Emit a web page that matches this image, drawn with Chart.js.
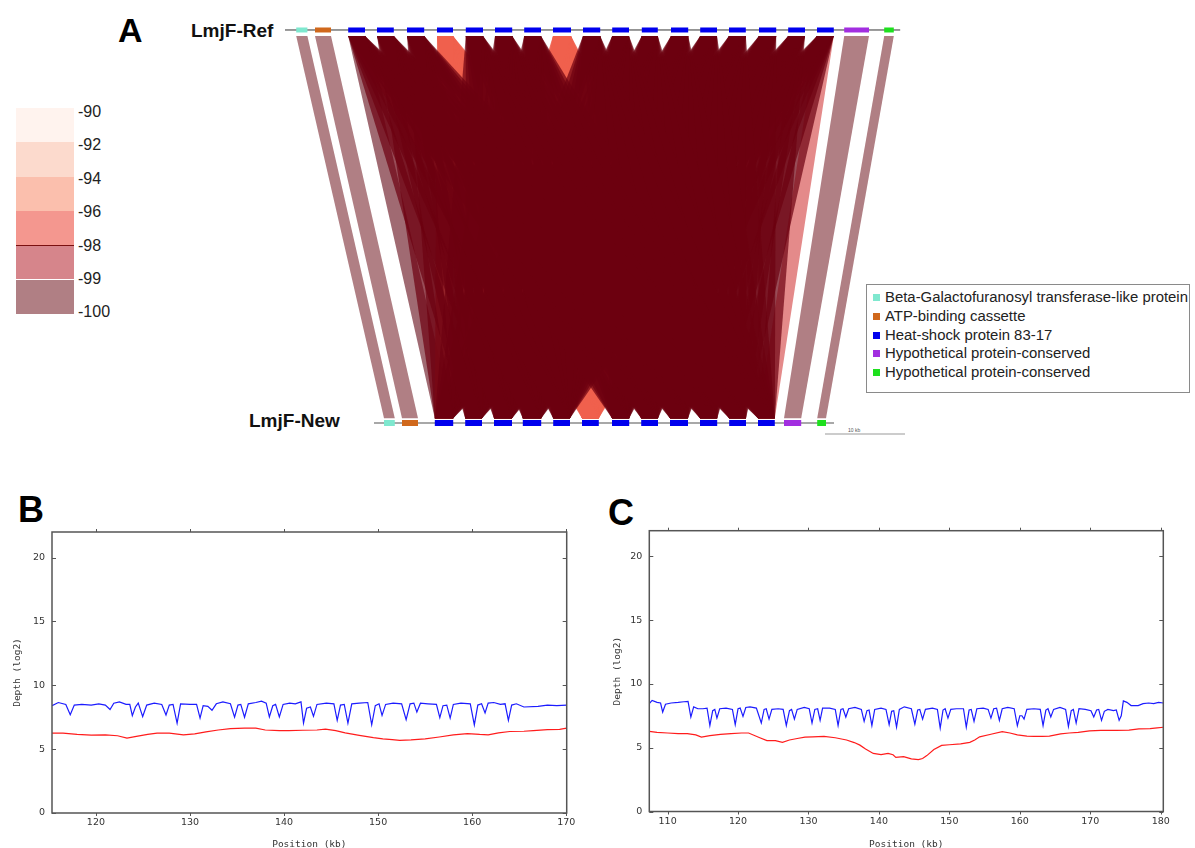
<!DOCTYPE html>
<html>
<head>
<meta charset="utf-8">
<script src="https://cdn.jsdelivr.net/npm/chart.js@4.4.1/dist/chart.umd.min.js"></script>
<style>
  body { margin: 0; background: #fff; width: 1195px; height: 848px; position: relative; overflow: hidden; font-family: "Liberation Sans", Arial, sans-serif; }
  .abs { position: absolute; }
  .panel { position: absolute; font-weight: bold; color: #000; line-height: 1; }
  .track { position: absolute; font-weight: bold; font-size: 19px; line-height: 1; color: #111; }
  #legend { position: absolute; left: 866px; top: 284px; width: 322px; height: 107px; border: 1px solid #8a8a8a; background: #fff; }
  #legend div { position: absolute; left: 18px; font-size: 14.9px; line-height: 1; color: #222; white-space: nowrap; }
  #legend span { position: absolute; left: -12px; top: 4px; width: 7px; height: 7px; }
  #colorbar div.c { position: absolute; left: 16px; width: 58px; }
  #colorbar div.t { position: absolute; left: 78px; font-size: 16px; line-height: 1; color: #222; }
</style>
</head>
<body>

<div class="panel" style="left:118px;top:13px;font-size:34px;">A</div>
<div class="panel" style="left:18px;top:492px;font-size:36px;">B</div>
<div class="panel" style="left:608px;top:495px;font-size:36px;">C</div>
<div class="track" style="left:191px;top:21px;">LmjF-Ref</div>
<div class="track" style="left:249px;top:411px;">LmjF-New</div>
<div class="abs" style="left:848px;top:427px;font-size:5px;color:#555;">10 kb</div>

<div id="colorbar"></div>
<div id="legend"></div>

<div class="abs" style="left:0;top:0;width:1195px;height:470px;"><canvas id="synteny"></canvas></div>
<div class="abs" style="left:0;top:500px;width:600px;height:348px;"><canvas id="depthB"></canvas></div>
<div class="abs" style="left:600px;top:500px;width:595px;height:348px;"><canvas id="depthC"></canvas></div>

<script>
// ---------- DATA ----------

// gene annotation (legend)
const geneNames = ['Beta-Galactofuranosyl transferase-like protein', 'ATP-binding cassette', 'Heat-shock protein 83-17', 'Hypothetical protein-conserved', 'Hypothetical protein-conserved'];
const geneColors = ['#7fe8cf', '#d0681c', '#0000ee', '#a22ee0', '#1ee01e'];

// LmjF-Ref genes, kb from start of the track
const refStarts = [1.4, 3.75, 7.9, 11.5, 15.25, 19.0, 22.6, 26.25, 29.9, 33.5, 37.25, 40.9, 44.6, 48.25, 51.9, 55.5, 59.25, 62.9, 66.5, 69.9, 74.9];
const refEnds   = [2.8, 5.75, 10.0, 13.6, 17.4, 21.0, 24.75, 28.4, 32.0, 35.75, 39.4, 43.0, 46.6, 50.4, 54.0, 57.6, 61.4, 65.0, 68.6, 73.0, 76.1];
const refTypes  = [0, 1, 2, 2, 2, 2, 2, 2, 2, 2, 2, 2, 2, 2, 2, 2, 2, 2, 2, 3, 4];
const refLength = 76.9;

// LmjF-New genes, kb from start of the track
const newStarts = [1.25, 3.5, 7.6, 11.4, 15.0, 18.6, 22.4, 26.0, 29.75, 33.4, 37.0, 40.75, 44.4, 48.0, 51.25, 55.4];
const newEnds   = [2.6, 5.5, 9.9, 13.5, 17.25, 20.9, 24.5, 28.1, 31.9, 35.5, 39.25, 42.9, 46.5, 50.1, 53.4, 56.5];
const newTypes  = [0, 1, 2, 2, 2, 2, 2, 2, 2, 2, 2, 2, 2, 2, 3, 4];
const newLength = 57.5;

// single copy links [ref gene, new gene]
const flankLinks = [[0, 0], [1, 1], [19, 14], [20, 15]];
// heat-shock copies with lower identity
const lowRefCopies = [3, 7];
const lowNewCopies = [5];

// identity colour scale
const scaleLabels = ['-90', '-92', '-94', '-96', '-98', '-99', '-100'];
const scaleColors = ['#fff3ee', '#fcdacd', '#fbbfad', '#f4978f', '#d6858b', '#b07f84'];

// depth panel B
const bTicksX = [120, 130, 140, 150, 160, 170];
const bBluePos = [115.33, 116.0, 116.8, 117.27, 117.7, 118.5, 119.5, 120.3, 121.0, 121.5, 121.9, 122.5, 123.2, 123.6, 123.87, 124.2, 124.5, 124.97, 125.4, 126.2, 127.0, 127.45, 127.8, 128.2, 128.63, 129.0, 130.0, 130.7, 131.07, 131.4, 131.9, 132.34, 132.8, 133.5, 134.3, 134.74, 135.1, 135.4, 135.8, 136.2, 137.0, 137.6, 138.1, 138.44, 138.8, 139.1, 139.5, 139.9, 140.6, 141.2, 141.8, 142.07, 142.4, 142.8, 143.13, 143.5, 144.5, 145.3, 145.65, 146.0, 146.4, 146.79, 147.2, 148.0, 148.9, 149.32, 149.7, 150.1, 150.42, 150.8, 151.6, 152.5, 152.98, 153.4, 153.8, 154.12, 154.5, 155.3, 156.2, 156.56, 156.9, 157.3, 157.66, 158.0, 158.8, 159.8, 160.23, 160.6, 161.0, 161.37, 161.7, 162.3, 163.0, 163.5, 163.85, 164.2, 164.7, 165.5, 167.0, 168.0, 169.0, 170.05];
const bBlueDepth = [8.40, 8.65, 8.5, 7.70, 8.45, 8.5, 8.45, 8.55, 8.45, 8.10, 8.6, 8.7, 8.5, 8.5, 7.62, 8.3, 8.6, 7.55, 8.45, 8.6, 8.5, 7.68, 8.45, 8.5, 7.04, 8.55, 8.5, 8.5, 7.43, 8.4, 8.35, 8.04, 8.55, 8.7, 8.55, 7.50, 8.45, 8.5, 7.50, 8.55, 8.65, 8.75, 8.6, 7.52, 8.4, 8.5, 7.52, 8.5, 8.6, 8.55, 8.7, 7.04, 8.2, 8.3, 7.57, 8.5, 8.6, 8.55, 7.25, 8.45, 8.5, 7.04, 8.55, 8.6, 8.65, 6.91, 8.4, 8.55, 7.64, 8.5, 8.6, 8.55, 7.30, 8.55, 8.6, 7.90, 8.6, 8.55, 8.5, 7.46, 8.4, 8.45, 7.43, 8.5, 8.6, 8.55, 6.90, 8.45, 8.55, 7.83, 8.6, 8.65, 8.5, 8.55, 7.25, 8.45, 8.55, 8.3, 8.35, 8.45, 8.4, 8.45];
const bRedPos = [115.33, 116.5, 118.0, 119.5, 121.0, 122.3, 123.3, 124.3, 125.5, 126.5, 127.8, 129.3, 130.5, 131.7, 133.0, 134.3, 135.8, 137.0, 138.0, 139.5, 140.5, 142.0, 143.5, 144.4, 145.5, 146.5, 148.0, 149.5, 150.5, 151.5, 152.3, 153.5, 155.0, 156.5, 158.0, 159.5, 160.8, 161.7, 162.8, 164.0, 165.5, 166.5, 168.0, 169.3, 170.05];
const bRedDepth = [6.26, 6.25, 6.15, 6.1, 6.12, 6.05, 5.86, 6.0, 6.15, 6.25, 6.25, 6.12, 6.2, 6.35, 6.5, 6.6, 6.65, 6.65, 6.5, 6.45, 6.45, 6.48, 6.5, 6.57, 6.45, 6.28, 6.08, 5.9, 5.8, 5.75, 5.68, 5.72, 5.8, 5.95, 6.12, 6.22, 6.15, 6.12, 6.28, 6.38, 6.4, 6.45, 6.52, 6.55, 6.65];

// depth panel C
const cTicksX = [110, 120, 130, 140, 150, 160, 170, 180];
const cBluePos = [107.4, 107.8, 108.5, 109.0, 109.3, 109.7, 110.5, 111.5, 112.3, 112.9, 113.3, 113.7, 114.3, 115.0, 115.6, 116.0, 116.4, 116.7, 117.0, 117.4, 118.3, 119.2, 119.6, 120.0, 120.3, 120.7, 121.1, 121.7, 122.6, 123.3, 123.7, 124.0, 124.4, 124.8, 125.7, 126.4, 126.85, 127.3, 127.6, 128.0, 128.4, 129.4, 130.1, 130.5, 130.9, 131.3, 131.65, 132.0, 133.0, 133.8, 134.2, 134.6, 134.9, 135.3, 135.7, 136.6, 137.5, 137.9, 138.3, 138.6, 139.0, 139.4, 140.3, 141.0, 141.45, 141.8, 142.1, 142.5, 142.9, 143.6, 144.6, 145.1, 145.5, 145.8, 146.2, 146.6, 147.6, 148.3, 148.7, 149.1, 149.4, 149.8, 150.2, 151.0, 152.0, 152.4, 152.8, 153.1, 153.5, 153.9, 154.8, 155.5, 155.9, 156.3, 156.7, 157.1, 157.5, 158.3, 159.2, 159.65, 160.0, 160.3, 160.6, 161.0, 162.0, 162.9, 163.3, 163.7, 164.0, 164.4, 164.8, 165.7, 166.5, 166.9, 167.3, 167.6, 168.0, 168.4, 169.3, 170.1, 170.5, 170.9, 171.2, 171.6, 172.0, 172.5, 173.3, 173.7, 174.1, 174.4, 174.7, 175.2, 175.8, 176.8, 177.5, 178.3, 179.0, 179.7, 180.37];
const cBlueDepth = [8.45, 8.7, 8.55, 8.5, 7.79, 8.4, 8.5, 8.55, 8.6, 8.62, 7.4, 8.2, 8.05, 8.05, 8.1, 6.74, 7.9, 8.0, 7.32, 8.05, 8.1, 8.0, 6.80, 8.05, 8.1, 7.45, 8.15, 8.2, 8.1, 6.93, 8.0, 8.05, 7.24, 8.0, 8.05, 8.0, 6.74, 7.9, 8.0, 7.24, 8.0, 8.15, 8.05, 6.93, 8.0, 8.05, 7.14, 8.1, 8.1, 8.0, 6.74, 8.0, 8.05, 7.40, 8.05, 8.15, 8.0, 7.06, 7.9, 7.95, 6.74, 8.0, 8.1, 8.0, 6.80, 7.85, 7.9, 6.61, 8.0, 8.2, 8.05, 6.85, 7.95, 8.0, 7.24, 8.0, 8.1, 8.0, 6.54, 7.95, 8.05, 7.32, 8.0, 8.05, 8.05, 6.61, 7.95, 8.0, 7.06, 8.05, 8.1, 8.0, 7.32, 8.05, 8.1, 7.14, 8.05, 8.15, 8.05, 6.72, 7.5, 7.5, 7.24, 8.0, 8.05, 8.0, 6.74, 7.95, 8.05, 7.40, 8.0, 8.15, 8.0, 6.67, 7.9, 8.0, 6.93, 8.05, 8.0, 7.9, 7.40, 7.95, 8.0, 7.14, 7.85, 8.0, 7.9, 7.95, 7.14, 7.5, 8.67, 8.55, 8.3, 8.3, 8.45, 8.5, 8.45, 8.55, 8.5];
const cRedPos = [107.4, 108.5, 110.0, 111.5, 112.8, 114.0, 114.8, 116.0, 117.5, 119.0, 120.5, 121.5, 123.0, 124.1, 125.3, 126.3, 127.3, 128.4, 129.5, 130.6, 132.2, 133.8, 135.4, 136.5, 137.3, 138.1, 139.2, 140.3, 141.3, 142.0, 142.4, 143.5, 144.6, 145.6, 146.2, 146.8, 147.8, 148.9, 150.0, 151.6, 152.9, 153.6, 154.3, 155.9, 157.5, 158.6, 159.65, 161.0, 162.0, 163.2, 164.2, 165.8, 167.0, 168.3, 169.9, 171.5, 173.7, 175.5, 176.9, 178.5, 179.5, 180.37];
const cRedDepth = [6.28, 6.2, 6.15, 6.1, 6.1, 6.0, 5.83, 5.95, 6.05, 6.1, 6.15, 6.15, 5.8, 5.55, 5.55, 5.42, 5.6, 5.72, 5.82, 5.85, 5.88, 5.78, 5.6, 5.4, 5.2, 4.9, 4.55, 4.45, 4.55, 4.45, 4.24, 4.3, 4.12, 4.06, 4.15, 4.38, 4.85, 5.18, 5.23, 5.3, 5.42, 5.6, 5.85, 6.05, 6.25, 6.15, 6.0, 5.9, 5.88, 5.88, 5.9, 6.08, 6.15, 6.2, 6.32, 6.35, 6.35, 6.38, 6.48, 6.5, 6.55, 6.6];

const depthTicksY = [0, 5, 10, 15, 20];

// ---------- LEGEND + COLOUR SCALE (html) ----------

const legendBox = document.getElementById('legend');
geneNames.forEach((name, i) => {
    const row = document.createElement('div');
    row.style.top = (5 + i * 18.8) + 'px';
    row.innerHTML = '<span style="background:' + geneColors[i] + '"></span>' + name;
    legendBox.appendChild(row);
});

const colorbar = document.getElementById('colorbar');
scaleColors.forEach((c, i) => {
    const cell = document.createElement('div');
    cell.className = 'c';
    cell.style.top = (108 + i * 34.3) + 'px';
    cell.style.height = '34.3px';
    cell.style.background = c;
    colorbar.appendChild(cell);
});
scaleLabels.forEach((t, i) => {
    const lab = document.createElement('div');
    lab.className = 't';
    lab.style.top = (104 + i * 33.4) + 'px';
    lab.textContent = t;
    colorbar.appendChild(lab);
});
const mark = document.createElement('div');
mark.className = 'c';
mark.style.cssText = 'top:245px;height:1px;background:#7a1010;';
colorbar.appendChild(mark);

// ---------- PANEL A : synteny ----------

const newOffset = 11.125;   // where LmjF-New starts under LmjF-Ref
const linkTop = 0.985;
const linkBottom = 0.012;

function seg(x1, x2, y, color, width, order) {
    return {
        data: [{x: x1, y: y}, {x: x2, y: y}],
        borderColor: color, borderWidth: width, borderCapStyle: 'butt',
        pointRadius: 0, showLine: true, fill: false, order: order
    };
}

function link(r, n, color, order) {
    return {
        data: [
            {x: refStarts[r], y: linkTop},
            {x: refEnds[r], y: linkTop},
            {x: newOffset + newEnds[n], y: linkBottom},
            {x: newOffset + newStarts[n], y: linkBottom}
        ],
        borderWidth: 0, borderColor: 'rgba(0,0,0,0)', backgroundColor: color,
        pointRadius: 0, showLine: true, fill: 'shape', order: order
    };
}

const synData = [];
// backbones + scale bar
synData.push(seg(0, refLength, 1, '#333', 1, 1));
synData.push(seg(newOffset, newOffset + newLength, 0, '#a8a8a8', 2, 1));
synData.push(seg(67.5, 77.5, -0.028, '#999', 1, 1));

// genes
refStarts.forEach((s, i) => synData.push(seg(s, refEnds[i], 1, geneColors[refTypes[i]], 5, 0)));
newStarts.forEach((s, i) => synData.push(seg(newOffset + s, newOffset + newEnds[i], 0, geneColors[newTypes[i]], 6, 0)));

// single copy links
flankLinks.forEach(p => synData.push(link(p[0], p[1], '#b07f84', 5)));

// heat-shock all vs all
const refHsp = refTypes.map((t, i) => t === 2 ? i : -1).filter(i => i >= 0);
const newHsp = newTypes.map((t, i) => t === 2 ? i : -1).filter(i => i >= 0);
refHsp.forEach((r, ri) => {
    newHsp.forEach((n, ni) => {
        let color = 'rgba(108,0,16,0.7)';
        let order = 2;
        if (lowRefCopies.includes(ri) || lowNewCopies.includes(ni)) {
            color = 'rgba(240,96,78,0.85)';
            order = 3;
        }
        if (ri === 0 && ni === 0) { color = '#a06a72'; order = 4; }
        if (ri === refHsp.length - 1 && ni === newHsp.length - 1) { color = '#e48a8a'; order = 4; }
        synData.push(link(r, n, color, order));
    });
});

new Chart(document.getElementById('synteny'), {
    type: 'scatter',
    data: { datasets: synData },
    options: {
        responsive: true, maintainAspectRatio: false, animation: false, events: [],
        layout: { padding: 0 },
        plugins: { legend: { display: false }, tooltip: { enabled: false } },
        scales: {
            x: { type: 'linear', display: false, min: -35.625, max: 113.75 },
            y: { type: 'linear', display: false, min: -0.1196, max: 1.0763 }
        }
    }
});

// ---------- PANELS B & C : depth ----------

// gnuplot style frame: box + mirrored ticks
const frameTicks = {
    id: 'frameTicks',
    afterDatasetsDraw(chart) {
        const {ctx, chartArea: a} = chart;
        const x = chart.scales.x, y = chart.scales.y;
        ctx.save();
        ctx.strokeStyle = '#555';
        ctx.lineWidth = 1.5;
        ctx.strokeRect(a.left, a.top, a.right - a.left, a.bottom - a.top);
        ctx.lineWidth = 1;
        ctx.beginPath();
        x.ticks.forEach(t => {
            const px = Math.round(x.getPixelForValue(t.value)) + 0.5;
            ctx.moveTo(px, a.bottom); ctx.lineTo(px, a.bottom + 3);
            ctx.moveTo(px, a.top); ctx.lineTo(px, a.top - 3);
        });
        y.ticks.forEach(t => {
            const py = Math.round(y.getPixelForValue(t.value)) + 0.5;
            ctx.moveTo(a.left, py); ctx.lineTo(a.left + 4, py);
            ctx.moveTo(a.right, py); ctx.lineTo(a.right - 4, py);
        });
        ctx.stroke();
        ctx.restore();
    }
};

function xy(pos, vals) {
    return pos.map((p, i) => ({x: p, y: vals[i]}));
}

function depthChart(id, bluePos, blueVals, redPos, redVals, ticksX, xMin, xMax, box) {
    return new Chart(document.getElementById(id), {
        type: 'scatter',
        data: {
            datasets: [
                { data: xy(bluePos, blueVals), borderColor: '#1c1cff', borderWidth: 1.2, showLine: true, pointRadius: 0, tension: 0 },
                { data: xy(redPos, redVals), borderColor: '#ff1c1c', borderWidth: 1.2, showLine: true, pointRadius: 0, tension: 0 }
            ]
        },
        options: {
            responsive: true, maintainAspectRatio: false, animation: false, events: [],
            layout: { padding: { left: 0, top: box.top, right: box.right, bottom: 0 } },
            plugins: { legend: { display: false }, tooltip: { enabled: false } },
            scales: {
                x: {
                    type: 'linear', min: xMin, max: xMax,
                    afterBuildTicks: s => { s.ticks = ticksX.map(v => ({value: v})); },
                    afterFit: s => { s.height = box.bottom; },
                    grid: { drawOnChartArea: false, drawTicks: false },
                    border: { display: false },
                    ticks: { autoSkip: false, maxRotation: 0, padding: 4, color: '#333', font: { family: 'DejaVu Sans', size: 9.5 } },
                    title: { display: true, text: 'Position (kb)', color: '#333', padding: { top: 0, bottom: -2 }, font: { family: 'DejaVu Sans Mono', size: 9.5 } }
                },
                y: {
                    type: 'linear', min: 0, max: 22,
                    afterBuildTicks: s => { s.ticks = depthTicksY.map(v => ({value: v})); },
                    afterFit: s => { s.width = box.left; },
                    grid: { drawOnChartArea: false, drawTicks: false },
                    border: { display: false },
                    ticks: { autoSkip: false, padding: 7, color: '#333', font: { family: 'DejaVu Sans', size: 9.5 } },
                    title: { display: true, text: 'Depth (log2)', color: '#333', padding: { top: 12, bottom: 0 }, font: { family: 'DejaVu Sans Mono', size: 9.5 } }
                }
            }
        },
        plugins: [frameTicks]
    });
}

depthChart('depthB', bBluePos, bBlueDepth, bRedPos, bRedDepth, bTicksX, 115.33, 170.05, { left: 52, top: 32, right: 33.3, bottom: 35 });
depthChart('depthC', cBluePos, cBlueDepth, cRedPos, cRedDepth, cTicksX, 107.4, 180.37, { left: 49.3, top: 30.7, right: 31.7, bottom: 36.5 });
</script>
</body>
</html>
